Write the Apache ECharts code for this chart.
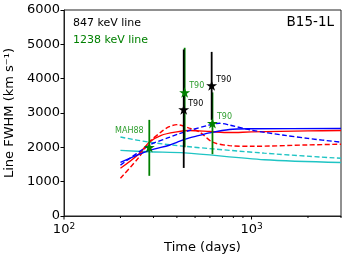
<!DOCTYPE html>
<html><head><meta charset="utf-8">
<script src="https://cdn.jsdelivr.net/npm/echarts@6/dist/echarts.min.js"></script>
<style>html,body{margin:0;padding:0;background:#fff}#c{width:349px;height:258px}</style>
</head><body><div id="c"></div>
<script>
// Model curves: [days, FWHM km/s]
const redDashed  = [[200,1100],[250,1700],[285,2150],[330,2450],[364,2600],[400,2660],[466,2560],[530,2440],[620,2150],[763,2050],[1000,2030],[2000,2070],[3000,2090]];
const redSolid   = [[200,1390],[250,1800],[285,2150],[330,2350],[400,2450],[466,2490],[600,2460],[763,2430],[1000,2450],[2000,2480],[3000,2490]];
const blueDashed = [[200,1480],[285,2060],[364,2290],[402,2380],[466,2490],[596,2650],[674,2700],[763,2650],[1000,2500],[1500,2350],[2000,2260],[3000,2150]];
const blueSolid  = [[200,1560],[285,1910],[364,2060],[402,2150],[444,2240],[520,2340],[596,2420],[763,2520],[1000,2540],[3000,2550]];
const cyanDashed = [[200,2300],[285,2150],[440,2030],[1170,1830],[3000,1680]];
const cyanSolid  = [[200,1910],[285,1870],[440,1840],[1170,1640],[3000,1560]];
// Observations: [days, value, low, high, label]
const obs847  = [[435,3100,1400,4850,'T90'],[613,3800,2800,4780,'T90']];
const obs1238 = [[285,2000,1170,2800,'MAH88'],[440,3600,2000,4900,'T90'],[619,2700,1800,3600,'T90']];
// Axis ticks
const xMajor = [100,1000];
const xMinor = [200,300,400,500,600,700,800,900,2000,3000];
const yTicks = [0,1000,2000,3000,4000,5000,6000];

const FONT = 'DejaVu Sans';
const STAR = 'path://M0,-1 L0.2245,-0.309 L0.951,-0.309 L0.363,0.118 L0.588,0.809 L0,0.382 L-0.588,0.809 L-0.363,0.118 L-0.951,-0.309 L-0.2245,-0.309 Z';
const BLUE='#0000ff', RED='#ff0000', CYAN='#1fc4c4', GREEN='#008000', LGREEN='#2e9e2e';

function lineSeries(data, color, dashed){
  return {type:'line', data, showSymbol:false, symbol:'none', smooth:0.3, z:2,
    lineStyle:{color, width:1.4, type: dashed ? [5,2.5] : 'solid'}};
}
function errSeries(data, color, width, z){
  return {type:'custom', z, data: data.map(d=>[d[0],d[2],d[3]]),
    encode:{x:0,y:[1,2]},
    renderItem:(params, api)=>{
      const a = api.coord([api.value(0), api.value(1)]);
      const b = api.coord([api.value(0), api.value(2)]);
      return {type:'line', shape:{x1:a[0],y1:a[1],x2:b[0],y2:b[1]}, style:{stroke:color, lineWidth:width}};
    }};
}
function starSeries(data, color, labColor, z, labelCfg){
  return {type:'scatter', z, symbol:STAR, symbolSize:[11,10.5],
    data: data.map((d,i)=>({value:[d[0],d[1]], label:Object.assign({show:true, formatter:d[4], color:labColor, fontSize:8, fontFamily:FONT}, labelCfg(i))})),
    itemStyle:{color, opacity:1}};
}
function tickSeries(vals, len){
  return {type:'custom', z:5, silent:true, clip:false, data: vals.map(v=>[v,0]),
    encode:{x:0,y:1},
    renderItem:(params, api)=>{
      const p = api.coord([api.value(0), 0]);
      return {type:'line', shape:{x1:p[0],y1:p[1],x2:p[0],y2:p[1]+len}, style:{stroke:'#000', lineWidth:1}};
    }};
}

const chart = echarts.init(document.getElementById('c'), null, {renderer:'canvas'});
chart.setOption({
  animation:false,
  backgroundColor:'#fff',
  grid:{left:64, right:8, top:10, bottom:42, containLabel:false, outerBoundsMode:'none', show:true, borderColor:'#222', borderWidth:1, backgroundColor:'transparent'},
  xAxis:{type:'log', logBase:10, min:100, max:3000,
    name:'Time (days)', nameLocation:'middle', nameGap:24,
    nameTextStyle:{fontFamily:FONT, fontSize:13, color:'#000'},
    axisLine:{show:true, lineStyle:{color:'#222', width:1}},
    axisTick:{show:false}, splitLine:{show:false}, minorTick:{show:false},
    axisLabel:{showMaxLabel:false, margin:6, color:'#000', fontFamily:FONT, fontSize:13,
      formatter:(v)=>{ const e=Math.round(Math.log10(v)); return Math.abs(Math.pow(10,e)-v)<1e-6 ? '10{s|'+e+'}' : ''; },
      rich:{s:{fontSize:9, fontFamily:FONT, color:'#000', verticalAlign:'top', padding:[0,0,7,0]}}}
  },
  yAxis:{type:'value', min:yTicks[0], max:yTicks[yTicks.length-1], interval:1000,
    name:'Line FWHM (km s\u207B\u00B9)', nameLocation:'middle', nameGap:45,
    nameTextStyle:{fontFamily:FONT, fontSize:13, color:'#000'},
    axisLine:{show:true, lineStyle:{color:'#222', width:1}},
    axisTick:{show:true, length:3.5, lineStyle:{color:'#000'}},
    splitLine:{show:false},
    axisLabel:{margin:4, color:'#000', fontFamily:FONT, fontSize:13, formatter:(v)=>String(v)}
  },
  graphic:[
    {type:'text', left:73, top:18, style:{text:'847 keV line', fill:'#000', font:'11px "DejaVu Sans"'}},
    {type:'text', left:73, top:35, style:{text:'1238 keV line', fill:GREEN, font:'11px "DejaVu Sans"'}},
    {type:'text', right:15, top:15, style:{text:'B15-1L', fill:'#000', font:'13.5px "DejaVu Sans"'}}
  ],
  series:[
    lineSeries(cyanSolid, CYAN, false),
    lineSeries(cyanDashed, CYAN, true),
    lineSeries(redDashed, RED, true),
    lineSeries(redSolid, RED, false),
    lineSeries(blueDashed, BLUE, true),
    lineSeries(blueSolid, BLUE, false),
    errSeries(obs1238, GREEN, 1.8, 6),
    errSeries(obs847, '#000', 1.8, 7),
    starSeries(obs1238, GREEN, LGREEN, 8, (i)=> i===0 ? {position:'top', distance:7, offset:[-20,0]} : {position:'right', distance:0, offset:[-1,-6]}),
    starSeries(obs847, '#000', '#000', 9, (i)=>({position:'right', distance:0, offset:[-1,-6]})),
    tickSeries(xMajor, 3.5),
    tickSeries(xMinor, 2)
  ]
});
</script></body></html>
